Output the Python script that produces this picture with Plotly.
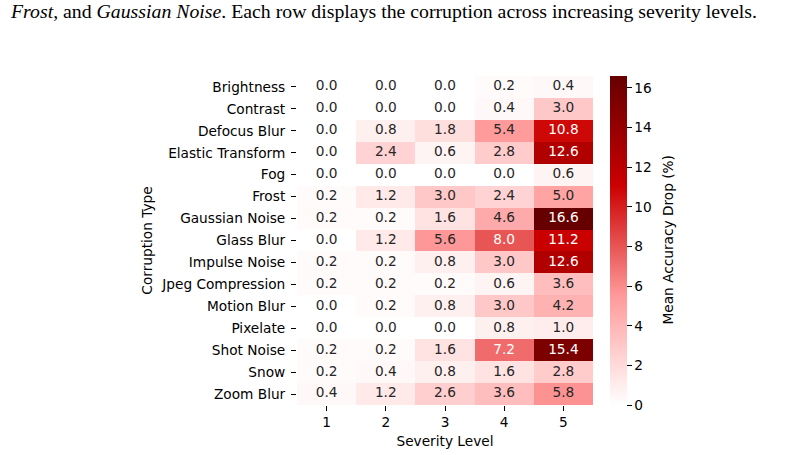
import plotly.graph_objects as go

corruptions = ["Brightness", "Contrast", "Defocus Blur", "Elastic Transform", "Fog",
               "Frost", "Gaussian Noise", "Glass Blur", "Impulse Noise", "Jpeg Compression",
               "Motion Blur", "Pixelate", "Shot Noise", "Snow", "Zoom Blur"]
severity = ["1", "2", "3", "4", "5"]

sev1 = [0.0, 0.0, 0.0, 0.0, 0.0, 0.2, 0.2, 0.0, 0.2, 0.2, 0.0, 0.0, 0.2, 0.2, 0.4]
sev2 = [0.0, 0.0, 0.8, 2.4, 0.0, 1.2, 0.2, 1.2, 0.2, 0.2, 0.2, 0.0, 0.2, 0.4, 1.2]
sev3 = [0.0, 0.0, 1.8, 0.6, 0.0, 3.0, 1.6, 5.6, 0.8, 0.2, 0.8, 0.0, 1.6, 0.8, 2.6]
sev4 = [0.2, 0.4, 5.4, 2.8, 0.0, 2.4, 4.6, 8.0, 3.0, 0.6, 3.0, 0.8, 7.2, 1.6, 3.6]
sev5 = [0.4, 3.0, 10.8, 12.6, 0.6, 5.0, 16.6, 11.2, 12.6, 3.6, 4.2, 1.0, 15.4, 2.8, 5.8]

cols = [sev1, sev2, sev3, sev4, sev5]
z = [[cols[j][i] for j in range(5)] for i in range(len(corruptions))]
zmax = max(max(c) for c in cols)

colorscale = [[0.0, "#ffffff"], [1/3, "#ff9999"], [2/3, "#cc0000"], [1.0, "#660000"]]

FONT = "DejaVu Sans"
FS = 13.7

fig = go.Figure()
fig.add_trace(go.Heatmap(
    z=z, x=severity, y=corruptions, colorscale=colorscale, zmin=0, zmax=zmax,
    xgap=0, ygap=0, hoverinfo="skip",
    colorbar=dict(
        x=(610 - 297) / 296, xanchor="left", xpad=0, ypad=0,
        y=0.5, yanchor="middle", len=1, lenmode="fraction", thickness=17,
        outlinewidth=0, tickvals=[0, 2, 4, 6, 8, 10, 12, 14, 16],
        ticks="outside", ticklen=5, tickwidth=1, tickcolor="black",
        tickprefix=" ",
        tickfont=dict(family=FONT, size=FS, color="black"),
    ),
))

xs, ys, txt, tc = [], [], [], []
for i, name in enumerate(corruptions):
    for j, s in enumerate(severity):
        v = cols[j][i]
        xs.append(s); ys.append(name); txt.append(f"{v:.1f}")
        tc.append("white" if v / zmax > 0.42 else "#262626")
fig.add_trace(go.Scatter(x=xs, y=ys, mode="text", text=txt,
                         textfont=dict(family=FONT, size=FS, color=tc),
                         hoverinfo="skip", showlegend=False))

fig.update_layout(
    width=798, height=455,
    margin=dict(l=297, r=205, t=76, b=50),
    paper_bgcolor="white", plot_bgcolor="white",
    showlegend=False,
    font=dict(family=FONT, size=FS, color="black"),
    xaxis=dict(type="category", showgrid=False, zeroline=False, showline=False,
               range=[-0.5, 4.5], automargin=False,
               ticks="outside", ticklen=5, tickcolor="black",
               tickfont=dict(family=FONT, size=FS, color="black"),
               title=dict(text="Severity Level", standoff=6,
                          font=dict(family=FONT, size=FS, color="black"))),
    yaxis=dict(type="category", range=[14.5, -0.5], automargin=False,
               showgrid=False, zeroline=False,
               showline=False, ticks="outside", ticklen=5, tickcolor="black",
               ticklabelstandoff=3,
               tickfont=dict(family=FONT, size=FS, color="black"),
               title=dict(text="Corruption Type", standoff=5,
                          font=dict(family=FONT, size=FS, color="black"))),
    annotations=[
        dict(xref="paper", yref="paper", x=(8 - 297) / 296, y=1 + (76 - 11) / 329,
             xanchor="left", yanchor="middle", showarrow=False,
             text="<i>Frost</i>, and <i>Gaussian Noise</i>. Each row displays the corruption across increasing severity levels.",
             font=dict(family="Liberation Serif", size=19.8, color="black")),
        dict(xref="paper", yref="paper", x=(667 - 297) / 296, y=0.5,
             xanchor="center", yanchor="middle", showarrow=False, textangle=-90,
             text="Mean Accuracy Drop (%)",
             font=dict(family=FONT, size=FS, color="black")),
    ],
)

fig.write_html("out.html")
